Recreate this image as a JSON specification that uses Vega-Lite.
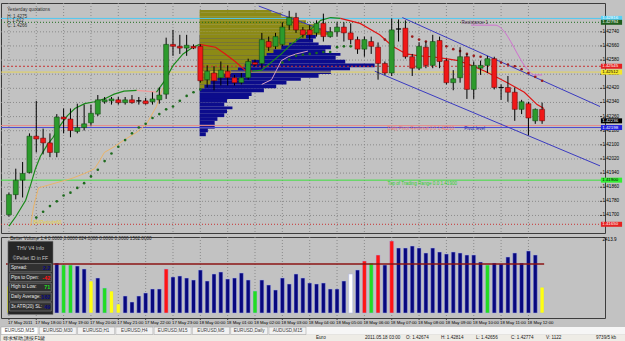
{
"$schema":"https://vega.github.io/schema/vega-lite/v6.json",
"background":"#c2c2c2",
"padding":{"left":0,"top":2,"right":0,"bottom":0},
"spacing":4,
"bounds":"flush",
"config":{
 "font":"Liberation Sans",
 "view":{"stroke":"#3c3c3c","strokeWidth":1},
 "axis":{"disable":true}
},
"resolve":{"scale":{"x":"independent","y":"independent"}},
"datasets":{
 "c":[
  {"i":1,"o":1.41704,"h":1.41829,"l":1.41694,"c":1.41818},
  {"i":2,"o":1.41818,"h":1.41965,"l":1.41791,"c":1.41900},
  {"i":3,"o":1.41900,"h":1.42003,"l":1.41802,"c":1.41938},
  {"i":4,"o":1.41943,"h":1.42165,"l":1.41938,"c":1.42149},
  {"i":5,"o":1.42149,"h":1.42349,"l":1.42057,"c":1.42133},
  {"i":6,"o":1.42138,"h":1.42192,"l":1.42046,"c":1.42111},
  {"i":7,"o":1.42111,"h":1.42165,"l":1.42030,"c":1.42057},
  {"i":8,"o":1.42057,"h":1.42274,"l":1.42030,"c":1.42257},
  {"i":9,"o":1.42257,"h":1.42306,"l":1.42165,"c":1.42246},
  {"i":10,"o":1.42246,"h":1.42306,"l":1.42143,"c":1.42181},
  {"i":11,"o":1.42176,"h":1.42333,"l":1.42165,"c":1.42198},
  {"i":12,"o":1.42198,"h":1.42328,"l":1.42181,"c":1.42219},
  {"i":13,"o":1.42225,"h":1.42328,"l":1.42209,"c":1.42279},
  {"i":14,"o":1.42274,"h":1.42382,"l":1.42263,"c":1.42355},
  {"i":15,"o":1.42344,"h":1.42371,"l":1.42333,"c":1.42355},
  {"i":16,"o":1.42349,"h":1.42371,"l":1.42328,"c":1.42360},
  {"i":17,"o":1.42355,"h":1.42371,"l":1.42328,"c":1.42339},
  {"i":18,"o":1.42339,"h":1.42371,"l":1.42328,"c":1.42355},
  {"i":19,"o":1.42355,"h":1.42382,"l":1.42333,"c":1.42339},
  {"i":20,"o":1.42349,"h":1.42371,"l":1.42328,"c":1.42349},
  {"i":21,"o":1.42349,"h":1.42366,"l":1.42328,"c":1.42333},
  {"i":22,"o":1.42344,"h":1.42398,"l":1.42328,"c":1.42360},
  {"i":23,"o":1.42355,"h":1.42425,"l":1.42333,"c":1.42382},
  {"i":24,"o":1.42387,"h":1.42707,"l":1.42360,"c":1.42669},
  {"i":25,"o":1.42669,"h":1.42751,"l":1.42604,"c":1.42658},
  {"i":26,"o":1.42658,"h":1.42723,"l":1.42615,"c":1.42648},
  {"i":27,"o":1.42648,"h":1.42723,"l":1.42604,"c":1.42664},
  {"i":28,"o":1.42658,"h":1.42669,"l":1.42642,"c":1.42648},
  {"i":29,"o":1.42658,"h":1.42669,"l":1.42452,"c":1.42463},
  {"i":30,"o":1.42469,"h":1.42550,"l":1.42425,"c":1.42517},
  {"i":31,"o":1.42507,"h":1.42545,"l":1.42409,"c":1.42463},
  {"i":32,"o":1.42480,"h":1.42572,"l":1.42436,"c":1.42523},
  {"i":33,"o":1.42517,"h":1.42550,"l":1.42436,"c":1.42480},
  {"i":34,"o":1.42480,"h":1.42496,"l":1.42436,"c":1.42452},
  {"i":35,"o":1.42452,"h":1.42507,"l":1.42442,"c":1.42480},
  {"i":36,"o":1.42480,"h":1.42588,"l":1.42469,"c":1.42572},
  {"i":37,"o":1.42566,"h":1.42583,"l":1.42545,"c":1.42555},
  {"i":38,"o":1.42561,"h":1.42734,"l":1.42534,"c":1.42696},
  {"i":39,"o":1.42685,"h":1.42713,"l":1.42631,"c":1.42653},
  {"i":40,"o":1.42658,"h":1.42734,"l":1.42642,"c":1.42713},
  {"i":41,"o":1.42669,"h":1.42794,"l":1.42658,"c":1.42767},
  {"i":42,"o":1.42778,"h":1.42859,"l":1.42751,"c":1.42821},
  {"i":43,"o":1.42821,"h":1.42848,"l":1.42734,"c":1.42751},
  {"i":44,"o":1.42751,"h":1.42767,"l":1.42707,"c":1.42723},
  {"i":45,"o":1.42751,"h":1.42778,"l":1.42696,"c":1.42723},
  {"i":46,"o":1.42734,"h":1.42805,"l":1.42713,"c":1.42788},
  {"i":47,"o":1.42788,"h":1.42843,"l":1.42685,"c":1.42713},
  {"i":48,"o":1.42713,"h":1.42767,"l":1.42707,"c":1.42740},
  {"i":49,"o":1.42740,"h":1.42794,"l":1.42713,"c":1.42767},
  {"i":50,"o":1.42767,"h":1.42794,"l":1.42685,"c":1.42734},
  {"i":51,"o":1.42734,"h":1.42788,"l":1.42669,"c":1.42696},
  {"i":52,"o":1.42696,"h":1.42713,"l":1.42615,"c":1.42642},
  {"i":53,"o":1.42642,"h":1.42713,"l":1.42599,"c":1.42696},
  {"i":54,"o":1.42685,"h":1.42713,"l":1.42615,"c":1.42658},
  {"i":55,"o":1.42653,"h":1.42680,"l":1.42469,"c":1.42561},
  {"i":56,"o":1.42561,"h":1.42572,"l":1.42496,"c":1.42507},
  {"i":57,"o":1.42507,"h":1.42816,"l":1.42490,"c":1.42751},
  {"i":58,"o":1.42756,"h":1.42810,"l":1.42685,"c":1.42756},
  {"i":59,"o":1.42761,"h":1.42805,"l":1.42588,"c":1.42599},
  {"i":60,"o":1.42599,"h":1.42615,"l":1.42490,"c":1.42534},
  {"i":61,"o":1.42534,"h":1.42680,"l":1.42523,"c":1.42658},
  {"i":62,"o":1.42653,"h":1.42685,"l":1.42534,"c":1.42550},
  {"i":63,"o":1.42550,"h":1.42723,"l":1.42534,"c":1.42685},
  {"i":64,"o":1.42691,"h":1.42713,"l":1.42534,"c":1.42572},
  {"i":65,"o":1.42577,"h":1.42588,"l":1.42442,"c":1.42452},
  {"i":66,"o":1.42452,"h":1.42523,"l":1.42409,"c":1.42474},
  {"i":67,"o":1.42480,"h":1.42653,"l":1.42452,"c":1.42599},
  {"i":68,"o":1.42599,"h":1.42615,"l":1.42360,"c":1.42414},
  {"i":69,"o":1.42414,"h":1.42572,"l":1.42360,"c":1.42550},
  {"i":70,"o":1.42534,"h":1.42577,"l":1.42496,"c":1.42550},
  {"i":71,"o":1.42550,"h":1.42604,"l":1.42507,"c":1.42588},
  {"i":72,"o":1.42588,"h":1.42599,"l":1.42414,"c":1.42425},
  {"i":73,"o":1.42425,"h":1.42442,"l":1.42355,"c":1.42425},
  {"i":74,"o":1.42425,"h":1.42490,"l":1.42344,"c":1.42398},
  {"i":75,"o":1.42398,"h":1.42425,"l":1.42236,"c":1.42301},
  {"i":76,"o":1.42301,"h":1.42355,"l":1.42274,"c":1.42344},
  {"i":77,"o":1.42333,"h":1.42344,"l":1.42154,"c":1.42252},
  {"i":78,"o":1.42236,"h":1.42306,"l":1.42219,"c":1.42301},
  {"i":79,"o":1.42301,"h":1.42339,"l":1.42219,"c":1.42236}
 ],
 "vol":[
  {"i":1,"v":860,"k":"y"},{"i":2,"v":1498,"k":"b"},{"i":3,"v":1339,"k":"b"},{"i":4,"v":1594,"k":"b"},{"i":5,"v":1403,"k":"b"},
  {"i":6,"v":1275,"k":"b"},{"i":7,"v":701,"k":"y"},{"i":8,"v":1594,"k":"b"},{"i":9,"v":1530,"k":"g"},{"i":10,"v":1530,"k":"g"},
  {"i":11,"v":1498,"k":"b"},{"i":12,"v":1403,"k":"b"},{"i":13,"v":1020,"k":"y"},{"i":14,"v":1116,"k":"b"},{"i":15,"v":797,"k":"g"},
  {"i":16,"v":701,"k":"y"},{"i":17,"v":287,"k":"y"},{"i":18,"v":542,"k":"b"},{"i":19,"v":351,"k":"b"},{"i":20,"v":542,"k":"b"},
  {"i":21,"v":638,"k":"b"},{"i":22,"v":765,"k":"b"},{"i":23,"v":765,"k":"b"},{"i":24,"v":1403,"k":"r"},{"i":25,"v":1148,"k":"b"},
  {"i":26,"v":1180,"k":"b"},{"i":27,"v":1116,"k":"b"},{"i":28,"v":1052,"k":"b"},{"i":29,"v":1371,"k":"b"},{"i":30,"v":1020,"k":"b"},
  {"i":31,"v":1243,"k":"b"},{"i":32,"v":1307,"k":"b"},{"i":33,"v":1084,"k":"b"},{"i":34,"v":1116,"k":"b"},{"i":35,"v":1275,"k":"b"},
  {"i":36,"v":1052,"k":"b"},{"i":37,"v":701,"k":"g"},{"i":38,"v":1052,"k":"b"},{"i":39,"v":893,"k":"b"},{"i":40,"v":733,"k":"b"},
  {"i":41,"v":1116,"k":"b"},{"i":42,"v":925,"k":"b"},{"i":43,"v":1243,"k":"b"},{"i":44,"v":1116,"k":"b"},{"i":45,"v":956,"k":"b"},
  {"i":46,"v":925,"k":"b"},{"i":47,"v":956,"k":"b"},{"i":48,"v":765,"k":"b"},{"i":49,"v":765,"k":"b"},{"i":50,"v":1020,"k":"b"},
  {"i":51,"v":1243,"k":"w"},{"i":52,"v":1371,"k":"b"},{"i":53,"v":1658,"k":"r"},{"i":54,"v":1594,"k":"g"},{"i":55,"v":1849,"k":"r"},
  {"i":56,"v":1530,"k":"b"},{"i":57,"v":2295,"k":"r"},{"i":58,"v":2072,"k":"b"},{"i":59,"v":2072,"k":"b"},{"i":60,"v":2136,"k":"b"},
  {"i":61,"v":2072,"k":"b"},{"i":62,"v":1913,"k":"b"},{"i":63,"v":2072,"k":"b"},{"i":64,"v":1945,"k":"b"},{"i":65,"v":1881,"k":"b"},
  {"i":66,"v":1945,"k":"b"},{"i":67,"v":1913,"k":"b"},{"i":68,"v":1849,"k":"b"},{"i":69,"v":1849,"k":"b"},{"i":70,"v":1626,"k":"b"},
  {"i":71,"v":1530,"k":"g"},{"i":72,"v":1594,"k":"b"},{"i":73,"v":1562,"k":"b"},{"i":74,"v":1785,"k":"b"},{"i":75,"v":1913,"k":"b"},
  {"i":76,"v":1594,"k":"b"},{"i":77,"v":1977,"k":"b"},{"i":78,"v":1849,"k":"b"},{"i":79,"v":824,"k":"y"}
 ],
 "pt":[{"p":1.417,"t":"1.41700"},{"p":1.4178,"t":"1.41780"},{"p":1.4186,"t":"1.41860"},{"p":1.4194,"t":"1.41940"},{"p":1.4202,"t":"1.42020"},
  {"p":1.421,"t":"1.42100"},{"p":1.4218,"t":"1.42180"},{"p":1.4226,"t":"1.42260"},{"p":1.4234,"t":"1.42340"},{"p":1.4242,"t":"1.42420"},
  {"p":1.425,"t":"1.42500"},{"p":1.4258,"t":"1.42580"},{"p":1.4266,"t":"1.42660"},{"p":1.4274,"t":"1.42740"}],
 "ht":[{"i":1,"t":"17 May 2011"},{"i":5,"t":"17 May 18:00"},{"i":9,"t":"17 May 19:00"},{"i":13,"t":"17 May 20:00"},{"i":17,"t":"17 May 21:00"},
  {"i":21,"t":"17 May 22:00"},{"i":25,"t":"17 May 23:00"},{"i":29,"t":"18 May 00:00"},{"i":33,"t":"18 May 01:00"},{"i":37,"t":"18 May 02:00"},
  {"i":41,"t":"18 May 03:00"},{"i":45,"t":"18 May 04:00"},{"i":49,"t":"18 May 05:00"},{"i":53,"t":"18 May 06:00"},{"i":57,"t":"18 May 07:00"},
  {"i":61,"t":"18 May 08:00"},{"i":65,"t":"18 May 09:00"},{"i":69,"t":"18 May 10:00"},{"i":73,"t":"18 May 11:00"},{"i":77,"t":"18 May 12:00"}],
 "hl":[
  {"k":"yh","p":1.42816},{"k":"r1","p":1.42794},{"k":"rd","p":1.42545},{"k":"ye","p":1.42512},
  {"k":"pr","p":1.42209},{"k":"pv","p":1.42198},{"k":"tr","p":1.41900},{"k":"bt","p":1.41650}
 ],
 "ab":[
  {"k":"yh","p":1.42816,"t":"1.42816"},{"k":"r1","p":1.42794,"t":"1.42794"},{"k":"rd","p":1.42545,"t":"1.42545"},{"k":"ye","p":1.42512,"t":"1.42512"},
  {"k":"cur","p":1.42236,"t":"1.42236"},{"k":"pv","p":1.42198,"t":"1.42198"},{"k":"tr","p":1.41900,"t":"1.41900"},{"k":"bt","p":1.41650,"t":"1.41650"}
 ],
 "prof":[
  {"k":"t","s":28.9,"lo":1.42848,"hi":1.42864,"e":39.4},{"k":"t","s":28.9,"lo":1.42826,"hi":1.42848,"e":40.85},
  {"k":"t","s":28.9,"lo":1.42805,"hi":1.42826,"e":42.58},{"k":"t","s":28.9,"lo":1.42783,"hi":1.42805,"e":44.45},
  {"k":"t","s":28.9,"lo":1.42761,"hi":1.42783,"e":45.89},{"k":"t","s":28.9,"lo":1.42740,"hi":1.42761,"e":47.33},
  {"k":"t","s":28.9,"lo":1.42723,"hi":1.42740,"e":48.34},{"k":"t","s":28.9,"lo":1.42702,"hi":1.42723,"e":44.45},
  {"k":"t","s":28.9,"lo":1.42680,"hi":1.42702,"e":43.01},{"k":"t","s":28.9,"lo":1.42664,"hi":1.42680,"e":42.0},
  {"k":"t","s":28.9,"lo":1.42642,"hi":1.42664,"e":40.85},{"k":"t","s":28.9,"lo":1.42620,"hi":1.42642,"e":39.7},
  {"k":"t","s":28.9,"lo":1.42604,"hi":1.42620,"e":38.7},{"k":"t","s":28.9,"lo":1.42582,"hi":1.42604,"e":37.7},
  {"k":"t","s":28.9,"lo":1.42561,"hi":1.42582,"e":36.5},{"k":"t","s":28.9,"lo":1.42539,"hi":1.42561,"e":35.5},
  {"k":"t","s":28.9,"lo":1.42523,"hi":1.42539,"e":34.5},{"k":"t","s":28.9,"lo":1.42501,"hi":1.42523,"e":33.5},
  {"k":"t","s":28.9,"lo":1.42480,"hi":1.42501,"e":32.5},{"k":"t","s":28.9,"lo":1.42463,"hi":1.42480,"e":31.5},
  {"k":"t","s":28.9,"lo":1.42442,"hi":1.42463,"e":30.5},{"k":"t","s":28.9,"lo":1.42420,"hi":1.42442,"e":29.6},
  {"k":"v","s":28.9,"lo":1.42702,"hi":1.42723,"e":45.9},{"k":"v","s":28.9,"lo":1.42680,"hi":1.42702,"e":45.5},
  {"k":"v","s":28.9,"lo":1.42664,"hi":1.42680,"e":46.3},{"k":"v","s":28.9,"lo":1.42642,"hi":1.42664,"e":48.1},
  {"k":"v","s":28.9,"lo":1.42620,"hi":1.42642,"e":47.3},{"k":"v","s":28.9,"lo":1.42604,"hi":1.42620,"e":49.5},
  {"k":"v","s":28.9,"lo":1.42582,"hi":1.42604,"e":48.8},{"k":"v","s":28.9,"lo":1.42561,"hi":1.42582,"e":50.2},
  {"k":"v","s":28.9,"lo":1.42539,"hi":1.42561,"e":54.5},{"k":"v","s":28.9,"lo":1.42523,"hi":1.42539,"e":50.9},
  {"k":"v","s":28.9,"lo":1.42501,"hi":1.42523,"e":48.1},{"k":"v","s":28.9,"lo":1.42480,"hi":1.42501,"e":46.3},
  {"k":"v","s":28.9,"lo":1.42463,"hi":1.42480,"e":43.7},{"k":"v","s":28.9,"lo":1.42442,"hi":1.42463,"e":41.6},
  {"k":"v","s":28.9,"lo":1.42420,"hi":1.42442,"e":40.1},{"k":"v","s":28.9,"lo":1.42398,"hi":1.42420,"e":38.3},
  {"k":"v","s":28.9,"lo":1.42377,"hi":1.42398,"e":36.5},{"k":"v","s":28.9,"lo":1.42360,"hi":1.42377,"e":36.1},
  {"k":"v","s":28.9,"lo":1.42339,"hi":1.42360,"e":32.9},{"k":"v","s":28.9,"lo":1.42317,"hi":1.42339,"e":32.5},
  {"k":"v","s":28.9,"lo":1.42301,"hi":1.42317,"e":33.7},{"k":"v","s":28.9,"lo":1.42279,"hi":1.42301,"e":32.9},
  {"k":"v","s":28.9,"lo":1.42257,"hi":1.42279,"e":32.5},{"k":"v","s":28.9,"lo":1.42236,"hi":1.42257,"e":31.5},
  {"k":"v","s":28.9,"lo":1.42214,"hi":1.42236,"e":31.1},{"k":"v","s":28.9,"lo":1.42192,"hi":1.42214,"e":31.1},
  {"k":"v","s":28.9,"lo":1.42171,"hi":1.42192,"e":30.1},{"k":"v","s":28.9,"lo":1.42149,"hi":1.42171,"e":29.8}
 ],
 "ch":[
  {"x1":58.55,"y1":1.42821,"x2":87.47,"y2":1.42317},
  {"x1":54.53,"y1":1.42517,"x2":87.47,"y2":1.41981},
  {"x1":37.55,"y1":1.42886,"x2":48.05,"y2":1.42734}
 ],
 "ma":[
  {"s":1,"d":"up","i":1.0,"p":1.41640},{"s":1,"d":"up","i":2.01,"p":1.41694},{"s":1,"d":"up","i":3.45,"p":1.41786},{"s":1,"d":"up","i":4.17,"p":1.41873},
  {"s":1,"d":"up","i":4.88,"p":1.41965},{"s":1,"d":"up","i":5.6,"p":1.42035},{"s":1,"d":"up","i":6.61,"p":1.42100},{"s":1,"d":"up","i":7.47,"p":1.42143},
  {"s":1,"d":"up","i":8.48,"p":1.42209},{"s":1,"d":"up","i":9.49,"p":1.42263},{"s":1,"d":"up","i":10.64,"p":1.42306},{"s":1,"d":"up","i":12.08,"p":1.42333},
  {"s":1,"d":"up","i":13.52,"p":1.42344},{"s":1,"d":"up","i":14.96,"p":1.42360},{"s":1,"d":"up","i":16.39,"p":1.42387},{"s":1,"d":"up","i":17.83,"p":1.42404},
  {"s":1,"d":"up","i":19.7,"p":1.42409},
  {"s":2,"d":"fl","i":19.7,"p":1.42409},{"s":2,"d":"fl","i":22.58,"p":1.42398},
  {"s":3,"d":"up","i":22.58,"p":1.42398},{"s":3,"d":"up","i":23.59,"p":1.42452},{"s":3,"d":"up","i":25.03,"p":1.42550},{"s":3,"d":"up","i":26.47,"p":1.42615},
  {"s":3,"d":"up","i":27.91,"p":1.42653},{"s":3,"d":"up","i":28.91,"p":1.42669},
  {"s":4,"d":"dn","i":28.91,"p":1.42669},{"s":4,"d":"dn","i":31.22,"p":1.42653},{"s":4,"d":"dn","i":32.65,"p":1.42615},{"s":4,"d":"dn","i":34.09,"p":1.42572},
  {"s":4,"d":"dn","i":35.53,"p":1.42523},{"s":4,"d":"dn","i":36.54,"p":1.42517},
  {"s":5,"d":"up","i":36.54,"p":1.42517},{"s":5,"d":"up","i":37.98,"p":1.42523},{"s":5,"d":"up","i":40.86,"p":1.42615},{"s":5,"d":"up","i":42.29,"p":1.42669},
  {"s":5,"d":"up","i":44.74,"p":1.42740},{"s":5,"d":"up","i":46.61,"p":1.42805},{"s":5,"d":"up","i":48.05,"p":1.42821},{"s":5,"d":"up","i":49.5,"p":1.42816},
  {"s":6,"d":"dn","i":49.5,"p":1.42816},{"s":6,"d":"dn","i":52.37,"p":1.42788},{"s":6,"d":"dn","i":55.24,"p":1.42723},{"s":6,"d":"dn","i":57.12,"p":1.42658},
  {"s":6,"d":"dn","i":59.13,"p":1.42615},{"s":6,"d":"dn","i":61,"p":1.42604},{"s":6,"d":"dn","i":62.87,"p":1.42599},{"s":6,"d":"dn","i":64.88,"p":1.42588},
  {"s":6,"d":"dn","i":66.76,"p":1.42577},{"s":6,"d":"dn","i":68.63,"p":1.42550},{"s":6,"d":"dn","i":70.64,"p":1.42517},{"s":6,"d":"dn","i":72.51,"p":1.42480},
  {"s":6,"d":"dn","i":74.38,"p":1.42442},{"s":6,"d":"dn","i":76.4,"p":1.42398},{"s":6,"d":"dn","i":78.27,"p":1.42328},{"s":6,"d":"dn","i":79.27,"p":1.42306}
 ],
 "ora":[
  {"s":"a","i":4.17,"p":1.41640},{"s":"a","i":4.6,"p":1.41748},{"s":"a","i":5.32,"p":1.41856},{"s":"a","i":7.76,"p":1.41883},{"s":"a","i":10.21,"p":1.41910},{"s":"a","i":12.08,"p":1.41938},
  {"s":"a","i":13.52,"p":1.41965},{"s":"a","i":14.24,"p":1.42008},{"s":"a","i":14.96,"p":1.42057},{"s":"a","i":16.39,"p":1.42089},{"s":"a","i":17.83,"p":1.42127},{"s":"a","i":19.7,"p":1.42171},
  {"s":"a","i":21.14,"p":1.42219},{"s":"a","i":22.58,"p":1.42317},{"s":"a","i":23.16,"p":1.42387},{"s":"a","i":23.59,"p":1.42425},
  {"s":"b","i":37.98,"p":1.42442},{"s":"b","i":39.42,"p":1.42469},{"s":"b","i":40.14,"p":1.42523},{"s":"b","i":40.86,"p":1.42577},
  {"s":"b","i":41.86,"p":1.42599},{"s":"b","i":43.01,"p":1.42615},{"s":"b","i":44.74,"p":1.42631}
 ],
 "sar":[
  {"s":"lo","i":5,"p":1.41688},{"s":"lo","i":6,"p":1.41721},{"s":"lo","i":7,"p":1.41753},{"s":"lo","i":8,"p":1.41780},{"s":"lo","i":9,"p":1.41813},
  {"s":"lo","i":10,"p":1.41829},{"s":"lo","i":11,"p":1.41856},{"s":"lo","i":12,"p":1.41883},{"s":"lo","i":13,"p":1.41921},{"s":"lo","i":14,"p":1.41959},
  {"s":"lo","i":15,"p":1.42008},{"s":"lo","i":16,"p":1.42051},{"s":"lo","i":17,"p":1.42089},{"s":"lo","i":18,"p":1.42127},{"s":"lo","i":19,"p":1.42165},
  {"s":"lo","i":20,"p":1.42198},{"s":"lo","i":21,"p":1.42219},{"s":"lo","i":22,"p":1.42252},{"s":"lo","i":23,"p":1.42274},{"s":"lo","i":24,"p":1.42301},
  {"s":"lo","i":25,"p":1.42317},{"s":"lo","i":26,"p":1.42349},{"s":"lo","i":27,"p":1.42377},{"s":"lo","i":28,"p":1.42398},{"s":"lo","i":29,"p":1.42414},
  {"s":"lo","i":41,"p":1.42566},{"s":"lo","i":42,"p":1.42583},{"s":"lo","i":43,"p":1.42604},{"s":"lo","i":44,"p":1.42610},{"s":"lo","i":45,"p":1.42615},
  {"s":"lo","i":46,"p":1.42620},{"s":"lo","i":47,"p":1.42626},{"s":"lo","i":48,"p":1.42626},{"s":"lo","i":49,"p":1.42653},{"s":"lo","i":50,"p":1.42658},
  {"s":"lo","i":51,"p":1.42658},{"s":"lo","i":52,"p":1.42669},
  {"s":"hi","i":56,"p":1.42696},{"s":"hi","i":60,"p":1.42713},{"s":"hi","i":61,"p":1.42696},{"s":"hi","i":62,"p":1.42685},{"s":"hi","i":65,"p":1.42658},
  {"s":"hi","i":66,"p":1.42642},{"s":"hi","i":67,"p":1.42631},{"s":"hi","i":68,"p":1.42615},{"s":"hi","i":69,"p":1.42604},{"s":"hi","i":70,"p":1.42599},
  {"s":"hi","i":73,"p":1.42566},{"s":"hi","i":74,"p":1.42555},{"s":"hi","i":75,"p":1.42545},{"s":"hi","i":76,"p":1.42528},{"s":"hi","i":77,"p":1.42507},
  {"s":"hi","i":78,"p":1.42485},{"s":"hi","i":79,"p":1.42463}
 ],
 "res":[
  {"i":68.6,"p":1.42778},{"i":72.1,"p":1.42778},{"i":73.5,"p":1.42740},{"i":74.4,"p":1.42685},{"i":75.4,"p":1.42615},
  {"i":76.4,"p":1.42550},{"i":77.1,"p":1.42517},{"i":77.8,"p":1.42496},{"i":79.0,"p":1.42496}
 ],
 "notes":[
  {"k":"q","i":0.75,"p":1.42862,"t":"Yesterday quotations"},
  {"k":"q","i":0.75,"p":1.42826,"t":"H: 1.4275"},
  {"k":"q","i":0.75,"p":1.42799,"t":"L: 1.412"},
  {"k":"q","i":0.75,"p":1.42772,"t":"C: 1.4266"},
  {"k":"r1","i":67.2,"p":1.42788,"t":"Resistance 1"},
  {"k":"pr","i":56.4,"p":1.42190,"t":"Daily Pivot Reversal 0.0 1.42210"},
  {"k":"pv","i":67.6,"p":1.42188,"t":"Pivot level"},
  {"k":"tr","i":56.4,"p":1.41880,"t":"Top of Trading Range 0.0 1.41900"},
  {"k":"bm","i":4.6,"p":1.41660,"t":"BMPeriod=60"}
 ],
 "tabs":[
  {"id":1,"t":"EURUSD,M15"},{"id":2,"t":"EURUSD,M30"},{"id":3,"t":"EURUSD,H1"},{"id":4,"t":"EURUSD,H4"},
  {"id":5,"t":"EURUSD,M15"},{"id":6,"t":"EURUSD,M5"},{"id":7,"t":"EURUSD,Daily"},{"id":8,"t":"AUDUSD,M15"}
 ],
 "bands":[{"r":"tabs"},{"r":"status"}],
 "status":[
  {"g":"a","t":"尋求幫助,請按F1鍵"},{"g":"b","t":"Euro"},{"g":"b","t":"2011.05.18 03:00"},
  {"g":"c","t":"O: 1.42674"},{"g":"c","t":"H: 1.42814"},{"g":"c","t":"L: 1.42656"},{"g":"c","t":"C: 1.42774"},{"g":"c","t":"V: 1122"},
  {"g":"d","t":"9739/5 kb"}
 ],
 "info":[
  {"r":"Spread:","val":"2.2","k":"o"},{"r":"Pips to Open:","val":"-42","k":"r"},{"r":"High to Low:","val":"71","k":"g"},
  {"r":"Daily Average:","val":"162","k":"o"},{"r":"3x ATR(20) SL:","val":"49","k":"o"}
 ],
 "infohead":[{"r":"title","t":"THV  V4  Info"},{"r":"sub","t":"©Pellet ID in FF"}],
 "bv":[{"t":"Better Volume 1.4 0.0000 0.0000 824.0000 0.0000 0.0000 1562.0000","ma":1562,"top":2413.9,"tt":"2413.9"}]
},
"vconcat":[
 {
  "width":604,"height":230,
  "resolve":{"scale":{"color":"independent","strokeDash":"independent","strokeWidth":"independent"}},
  "layer":[
   {"data":{"name":"pt"},"mark":{"type":"rule","color":"#8a8a8a","strokeDash":[1,2],"strokeWidth":1},
    "encoding":{"y":{"field":"p","type":"quantitative","axis":null,"scale":{"domain":[1.41629,1.42875],"nice":false,"zero":false}}}},
   {"data":{"name":"ht"},"mark":{"type":"rule","color":"#8a8a8a","strokeDash":[1,2],"strokeWidth":1},
    "encoding":{"x":{"field":"i","type":"quantitative","axis":null,"scale":{"domain":[0.57,87.47],"nice":false,"zero":false}}}},
   {"data":{"name":"prof"},"transform":[{"filter":"datum.k=='v'"}],"mark":{"type":"rect","color":"#0c0c8c"},
    "encoding":{"x":{"field":"s","type":"quantitative"},"x2":{"field":"e"},"y":{"field":"lo","type":"quantitative"},"y2":{"field":"hi"}}},
   {"data":{"name":"prof"},"transform":[{"filter":"datum.k=='t'"}],"mark":{"type":"rect","color":"#8c8a16"},
    "encoding":{"x":{"field":"s","type":"quantitative"},"x2":{"field":"e"},"y":{"field":"lo","type":"quantitative"},"y2":{"field":"hi"}}},
   {"data":{"name":"hl"},"mark":{"type":"rule"},
    "encoding":{"y":{"field":"p","type":"quantitative"},
     "color":{"field":"k","type":"nominal","legend":null,"scale":{"domain":["yh","r1","rd","ye","pr","pv","tr","bt"],"range":["#4fc9f2","#1f6f1f","#c83232","#e6d45a","#e88a8a","#4a4ad0","#3ee03e","#c83232"]}},
     "strokeDash":{"field":"k","type":"nominal","legend":null,"scale":{"domain":["yh","r1","rd","ye","pr","pv","tr","bt"],"range":[[1,0],[1,2],[2,2],[1,0],[1,0],[1,0],[1,0],[1,2]]}},
     "strokeWidth":{"field":"k","type":"nominal","legend":null,"scale":{"domain":["yh","r1","rd","ye","pr","pv","tr","bt"],"range":[1,1,1,2,1,1,1,1]}}}},
   {"data":{"name":"ch"},"mark":{"type":"rule","color":"#3a3ac0","strokeWidth":1,"clip":true},
    "encoding":{"x":{"field":"x1","type":"quantitative"},"x2":{"field":"x2"},"y":{"field":"y1","type":"quantitative"},"y2":{"field":"y2"}}},
   {"data":{"name":"ora"},"mark":{"type":"line","strokeWidth":1},
    "encoding":{"x":{"field":"i","type":"quantitative"},"y":{"field":"p","type":"quantitative"},"detail":{"field":"s"},
     "color":{"field":"s","type":"nominal","legend":null,"scale":{"domain":["a","b"],"range":["#eab46a","#d8a0c0"]}}}},
   {"data":{"name":"ma"},"mark":{"type":"line","strokeWidth":1.2},
    "encoding":{"x":{"field":"i","type":"quantitative"},"y":{"field":"p","type":"quantitative"},"detail":{"field":"s"},
     "color":{"field":"d","type":"nominal","legend":null,"scale":{"domain":["up","fl","dn"],"range":["#1a8a1a","#f09a9a","#e01414"]}}}},
   {"data":{"name":"sar"},"mark":{"type":"point","filled":true,"size":7,"opacity":1},
    "encoding":{"x":{"field":"i","type":"quantitative"},"y":{"field":"p","type":"quantitative"},
     "color":{"field":"s","type":"nominal","legend":null,"scale":{"domain":["lo","hi"],"range":["#1d6a1d","#9a1a1a"]}}}},
   {"data":{"name":"res"},"mark":{"type":"line","color":"#d070d0","strokeWidth":1,"interpolate":"monotone"},
    "encoding":{"x":{"field":"i","type":"quantitative"},"y":{"field":"p","type":"quantitative"}}},
   {"data":{"name":"c"},"mark":{"type":"rule","color":"#000000","strokeWidth":1},
    "encoding":{"x":{"field":"i","type":"quantitative"},"y":{"field":"l","type":"quantitative"},"y2":{"field":"h"}}},
   {"data":{"name":"c"},"transform":[{"filter":"datum.c > datum.o"}],"mark":{"type":"bar","width":5,"color":"#2c9a2c","stroke":"#0d3d0d","strokeWidth":0.5},
    "encoding":{"x":{"field":"i","type":"quantitative"},"y":{"field":"o","type":"quantitative"},"y2":{"field":"c"}}},
   {"data":{"name":"c"},"transform":[{"filter":"datum.c < datum.o"}],"mark":{"type":"bar","width":5,"color":"#f01818","stroke":"#5a0000","strokeWidth":0.5},
    "encoding":{"x":{"field":"i","type":"quantitative"},"y":{"field":"o","type":"quantitative"},"y2":{"field":"c"}}},
   {"data":{"name":"c"},"transform":[{"filter":"datum.c == datum.o"}],"mark":{"type":"bar","width":5,"color":"#000000","stroke":"#000000","strokeWidth":0.8},
    "encoding":{"x":{"field":"i","type":"quantitative"},"y":{"field":"o","type":"quantitative"},"y2":{"field":"c"}}},
   {"data":{"name":"pt"},"mark":{"type":"rule","color":"#3c3c3c","strokeWidth":1},
    "encoding":{"x":{"datum":87.47,"type":"quantitative"},"x2":{"datum":87.78},"y":{"field":"p","type":"quantitative"}}},
   {"data":{"name":"pt"},"mark":{"type":"text","align":"left","baseline":"middle","fontSize":4.6,"color":"#000000"},
    "encoding":{"x":{"datum":87.83,"type":"quantitative"},"y":{"field":"p","type":"quantitative"},"text":{"field":"t"}}},
   {"data":{"name":"ab"},"mark":{"type":"bar","orient":"horizontal","size":5},
    "encoding":{"x":{"datum":87.6,"type":"quantitative"},"x2":{"datum":90.7},"y":{"field":"p","type":"quantitative"},
     "color":{"field":"k","type":"nominal","legend":null,"scale":{"domain":["yh","r1","rd","ye","cur","pv","tr","bt"],"range":["#5ad0f5","#1e5e1e","#e52222","#f5e62a","#000000","#2222dd","#33ee33","#e52222"]}}}},
   {"data":{"name":"ab"},"mark":{"type":"text","align":"left","baseline":"middle","fontSize":4.4},
    "encoding":{"x":{"datum":87.8,"type":"quantitative"},"y":{"field":"p","type":"quantitative"},"text":{"field":"t"},
     "color":{"field":"k","type":"nominal","legend":null,"scale":{"domain":["yh","r1","rd","ye","cur","pv","tr","bt"],"range":["#ffffff","#ffffff","#ffffff","#000000","#ffffff","#ffffff","#000000","#ffffff"]}}}},
   {"data":{"name":"notes"},"mark":{"type":"text","align":"left","baseline":"middle","fontSize":4.6},
    "encoding":{"x":{"field":"i","type":"quantitative"},"y":{"field":"p","type":"quantitative"},"text":{"field":"t"},
     "color":{"field":"k","type":"nominal","legend":null,"scale":{"domain":["q","r1","pr","pv","tr","bm"],"range":["#303030","#552a55","#e87878","#2a2ab0","#30d030","#e8d040"]}}}}
  ]
 },
 {
  "width":604,"height":81,
  "resolve":{"scale":{"y":"independent"}},
  "layer":[
   {"layer":[
    {"data":{"name":"ht"},"mark":{"type":"rule","color":"#8a8a8a","strokeDash":[1,2],"strokeWidth":1},
     "encoding":{"x":{"field":"i","type":"quantitative","axis":null,"scale":{"domain":[0.57,87.47],"nice":false,"zero":false}}}},
    {"data":{"name":"vol"},"mark":{"type":"bar","width":4,"stroke":"#a8b0e8","strokeWidth":0.5},
     "encoding":{
      "x":{"field":"i","type":"quantitative"},
      "y":{"field":"v","type":"quantitative","axis":null,"scale":{"domain":[-159,2423],"nice":false,"zero":false}},
      "color":{"field":"k","type":"nominal","legend":null,"scale":{"domain":["b","g","y","r","w"],"range":["#08087e","#22dd22","#ffff10","#ff1414","#ffffff"]}}}},
    {"data":{"name":"bv"},"mark":{"type":"rule","color":"#8b1414","strokeWidth":1.5},
     "encoding":{"x":{"datum":0.57,"type":"quantitative"},"x2":{"datum":79.3},"y":{"field":"ma","type":"quantitative"}}},
    {"data":{"name":"bv"},"mark":{"type":"rect","fill":"#262626","stroke":"#7a7a7a","strokeWidth":0.5},
     "encoding":{"x":{"datum":0.85,"type":"quantitative"},"x2":{"datum":7.45},"y":{"datum":2290,"type":"quantitative"},"y2":{"datum":-50}}},
    {"data":{"name":"bv"},"mark":{"type":"text","align":"left","baseline":"middle","fontSize":4.6,"color":"#202020"},
     "encoding":{"x":{"datum":1.2,"type":"quantitative"},"y":{"datum":2360,"type":"quantitative"},"text":{"field":"t"}}},
    {"data":{"name":"bv"},"mark":{"type":"text","align":"left","baseline":"top","fontSize":4.6,"color":"#000000"},
     "encoding":{"x":{"datum":87.83,"type":"quantitative"},"y":{"field":"top","type":"quantitative"},"text":{"field":"tt"}}},
    {"data":{"name":"ht"},"mark":{"type":"rule","color":"#3c3c3c","strokeWidth":1},
     "encoding":{"x":{"field":"i","type":"quantitative"},"y":{"datum":-159,"type":"quantitative"},"y2":{"datum":-222}}},
    {"data":{"name":"ht"},"mark":{"type":"text","align":"left","baseline":"middle","fontSize":4.3,"font":"Liberation Sans Narrow, Liberation Sans","color":"#000000","dx":-1},
     "encoding":{"x":{"field":"i","type":"quantitative"},"y":{"datum":-330,"type":"quantitative"},"text":{"field":"t"}}}
   ]},
   {"layer":[
    {"data":{"name":"info"},"mark":{"type":"rect","fill":"#303030","stroke":"#9a9a9a","strokeWidth":0.5},
     "encoding":{"x":{"datum":1.1,"type":"quantitative"},"x2":{"datum":7.2},
      "y":{"field":"r","type":"nominal","axis":null,"scale":{"domain":["title","sub","Spread:","Pips to Open:","High to Low:","Daily Average:","3x ATR(20) SL:"],"range":[7,74],"paddingInner":0.15,"paddingOuter":0}}}},
    {"data":{"name":"info"},"mark":{"type":"text","align":"left","baseline":"middle","fontSize":4.6,"color":"#e8e8e8"},
     "encoding":{"x":{"datum":1.3,"type":"quantitative"},"y":{"field":"r","type":"nominal"},"text":{"field":"r"}}},
    {"data":{"name":"info"},"mark":{"type":"text","align":"right","baseline":"middle","fontSize":5.5,"fontWeight":"bold"},
     "encoding":{"x":{"datum":7.05,"type":"quantitative"},"y":{"field":"r","type":"nominal"},"text":{"field":"val"},
      "color":{"field":"k","type":"nominal","legend":null,"scale":{"domain":["o","r","g"],"range":["#ffb020","#ff3030","#30e030"]}}}},
    {"data":{"name":"infohead"},"mark":{"type":"text","align":"center","baseline":"middle","fontSize":5,"color":"#c8c8c8"},
     "encoding":{"x":{"datum":4.15,"type":"quantitative"},"y":{"field":"r","type":"nominal"},"text":{"field":"t"}}}
   ]}
  ]
 },
 {
  "width":625,"height":20,
  "view":{"stroke":null},
  "resolve":{"scale":{"x":"independent"}},
  "layer":[
   {"data":{"name":"bands"},"mark":{"type":"rect"},
    "encoding":{"x":{"datum":0,"type":"quantitative","axis":null,"scale":{"domain":[0,1]}},"x2":{"datum":1},
     "y":{"field":"r","type":"nominal","axis":null,"scale":{"domain":["tabs","status"],"range":[5,20],"paddingInner":0,"paddingOuter":0}},
     "fill":{"field":"r","type":"nominal","legend":null,"scale":{"domain":["tabs","status"],"range":["#f6f6f6","#eeece6"]}}}},
   {"layer":[
    {"data":{"name":"tabs"},"mark":{"type":"rect","stroke":"#9a9a9a","strokeWidth":0.5},
     "encoding":{"x":{"field":"id","type":"ordinal","axis":null,"scale":{"range":[0,305],"paddingInner":0.03,"paddingOuter":0}},
      "y":{"datum":"tabs","type":"nominal"},
      "fill":{"condition":{"test":"datum.id == 1","value":"#ffffff"},"value":"#f2f2f2"}}},
    {"data":{"name":"tabs"},"mark":{"type":"text","fontSize":4.6,"color":"#404040","baseline":"middle"},
     "encoding":{"x":{"field":"id","type":"ordinal"},"y":{"datum":"tabs","type":"nominal"},"text":{"field":"t"}}}
   ]},
   {"data":{"name":"status"},"transform":[{"filter":"datum.g=='a'"}],"mark":{"type":"text","align":"left","baseline":"middle","fontSize":5,"color":"#202020"},
    "encoding":{"x":{"field":"t","type":"nominal","sort":null,"axis":null,"scale":{"type":"point","range":[2,2],"padding":0}},"y":{"datum":"status","type":"nominal"},"text":{"field":"t"}}},
   {"data":{"name":"status"},"transform":[{"filter":"datum.g=='b'"}],"mark":{"type":"text","align":"left","baseline":"middle","fontSize":4.6,"color":"#202020"},
    "encoding":{"x":{"field":"t","type":"nominal","sort":null,"axis":null,"scale":{"type":"point","range":[315,364],"padding":0}},"y":{"datum":"status","type":"nominal"},"text":{"field":"t"}}},
   {"data":{"name":"status"},"transform":[{"filter":"datum.g=='c'"}],"mark":{"type":"text","align":"left","baseline":"middle","fontSize":4.6,"color":"#202020"},
    "encoding":{"x":{"field":"t","type":"nominal","sort":null,"axis":null,"scale":{"type":"point","range":[405,545],"padding":0}},"y":{"datum":"status","type":"nominal"},"text":{"field":"t"}}},
   {"data":{"name":"status"},"transform":[{"filter":"datum.g=='d'"}],"mark":{"type":"text","align":"left","baseline":"middle","fontSize":4.6,"color":"#202020"},
    "encoding":{"x":{"field":"t","type":"nominal","sort":null,"axis":null,"scale":{"type":"point","range":[595,595],"padding":0}},"y":{"datum":"status","type":"nominal"},"text":{"field":"t"}}}
  ]
 }
]
}
